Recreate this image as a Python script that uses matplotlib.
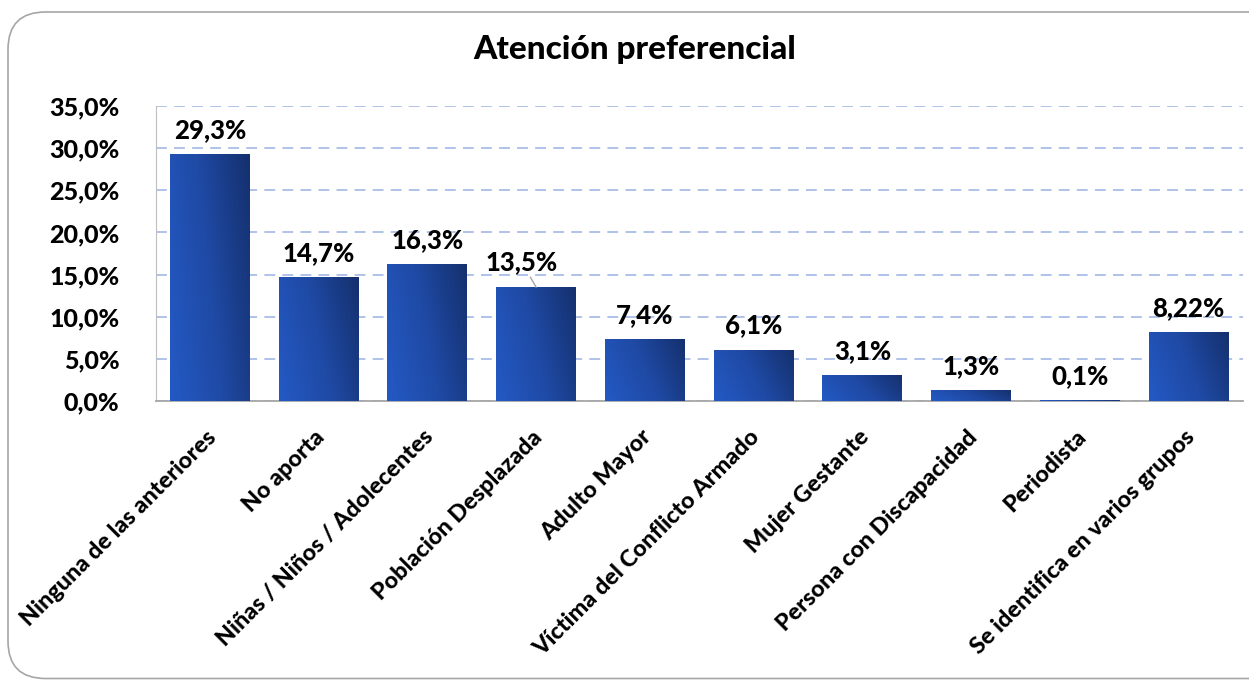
import numpy as np
import matplotlib
matplotlib.use("Agg")
import matplotlib.pyplot as plt
from matplotlib.patches import FancyBboxPatch
from matplotlib.colors import LinearSegmentedColormap

# datos
categorias = ['Ninguna de las anteriores', 'No aporta', 'Niñas / Niños / Adolecentes',
              'Población Desplazada', 'Adulto Mayor', 'Víctima del Conflicto Armado',
              'Mujer Gestante', 'Persona con Discapacidad', 'Periodista',
              'Se identifica en varios grupos']
valores = [29.3, 14.7, 16.3, 13.5, 7.4, 6.1, 3.1, 1.3, 0.1, 8.22]
etiquetas = ['29,3%', '14,7%', '16,3%', '13,5%', '7,4%', '6,1%', '3,1%', '1,3%', '0,1%', '8,22%']
yticks = [0, 5, 10, 15, 20, 25, 30, 35]

plt.rcParams['font.family'] = ['Lato', 'DejaVu Sans']
peso = 900

fig = plt.figure(figsize=(12.49, 6.8), dpi=100)
W, H = 1249, 680
ax = fig.add_axes([155.5 / W, 1 - 401 / H, (1243 - 155.5) / W, (401 - 106) / H])

# marco redondeado
marco = FancyBboxPatch((8 / W, 1.5 / H), 1.05, 1 - 13.5 / H, boxstyle="round,pad=0,rounding_size=0.03",
                       transform=fig.transFigure, fc='white', ec='#a6a6a6', lw=1.2,
                       mutation_aspect=W / H, zorder=-10)
fig.patches.append(marco)

x = np.arange(len(categorias))
barras = ax.bar(x, valores, width=0.735, color='none', zorder=3)

cmap = LinearSegmentedColormap.from_list('azul', ['#2459c4', '#1f4aa5', '#15306e'])
gx, gy = np.meshgrid(np.linspace(0, 1, 60), np.linspace(0, 1, 60))
grad = (gx * 0.75 + gy * 0.25)
for b in barras:
    x0, y0, w, h = b.get_x(), b.get_y(), b.get_width(), b.get_height()
    im = ax.imshow(grad, cmap=cmap, extent=[x0, x0 + w, y0, y0 + h], origin='lower',
                   aspect='auto', zorder=3, interpolation='bilinear')
    im.set_clip_path(b)

ax.set_xlim(-0.5, len(categorias) - 0.5)
ax.set_ylim(0, 35)
ax.set_yticks(yticks)
ax.set_yticklabels([f'{v:.1f}%'.replace('.', ',') for v in yticks], fontsize=18, fontweight=peso)
ax.tick_params(axis='y', length=0, pad=26)
ax.tick_params(axis='x', length=0)
ax.set_xticks(x)
ax.set_xticklabels([])
ax.yaxis.grid(True, linestyle=(0, (6, 4)), color='#a9bde6', lw=1.3, zorder=0)
ax.set_axisbelow(True)
for s in ['top', 'right']:
    ax.spines[s].set_visible(False)
ax.spines['left'].set_color('#bfbfbf')
ax.spines['bottom'].set_color('#a6a6a6')
ax.spines['bottom'].set_linewidth(1.3)

# etiquetas de las barras
for i, (v, t) in enumerate(zip(valores, etiquetas)):
    if i == 3:
        ax.annotate(t, xy=(i, v), xytext=(i - 0.13, v + 2.95), ha='center', va='center',
                    fontsize=18.5, fontweight=peso,
                    arrowprops=dict(arrowstyle='-', color='#a6a6a6', lw=1, shrinkA=11, shrinkB=0))
    else:
        ax.annotate(t, xy=(i, v), xytext=(0, 24), textcoords='offset pixels',
                    ha='center', va='center', fontsize=18.5, fontweight=peso)

# etiquetas del eje x rotadas
for i, c in enumerate(categorias):
    ax.text(i - 0.04, -3.0, c, rotation=45, ha='right', va='top', rotation_mode='anchor',
            fontsize=16.8, fontweight=peso)

fig.text(635 / W, 1 - 50 / H, 'Atención preferencial', ha='center', va='center',
         fontsize=24, fontweight=peso)

fig.savefig('out.png', dpi=100)
